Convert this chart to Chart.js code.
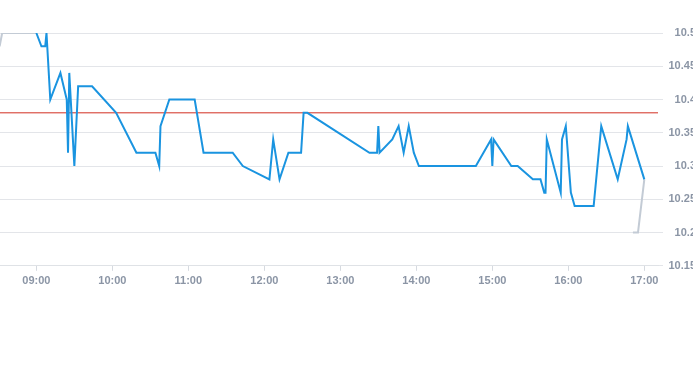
<!DOCTYPE html>
<html>
<head>
<meta charset="utf-8">
<script src="https://cdn.jsdelivr.net/npm/chart.js@4/dist/chart.umd.min.js"></script>
<style>
  html, body { margin: 0; padding: 0; background: #fff; overflow: hidden; }
  #wrap { position: relative; width: 696px; height: 365px; }
</style>
</head>
<body>
<div id="wrap"><canvas id="price-chart"></canvas></div>
<script>
// intraday trade prices (blue)
const tradeTimes = [
  "09:00", "09:04", "09:07", "09:08", "09:11", "09:19", "09:24", "09:25", "09:26", "09:30",
  "09:33", "09:44", "10:03", "10:19", "10:34", "10:37", "10:38", "10:45", "11:05", "11:12",
  "11:35", "11:43", "12:04", "12:07", "12:12", "12:19", "12:29", "12:31", "12:34", "13:23",
  "13:29", "13:30", "13:31", "13:41", "13:46", "13:50", "13:54", "13:58", "14:02", "14:47",
  "14:59", "15:00", "15:01", "15:15", "15:20", "15:32", "15:38", "15:41", "15:42", "15:43",
  "15:54", "15:55", "15:58", "16:02", "16:05", "16:20", "16:26", "16:39", "16:46", "16:47",
  "17:00"
];
const tradePrices = [
  10.50, 10.48, 10.48, 10.50, 10.40, 10.44, 10.40, 10.32, 10.44, 10.30,
  10.42, 10.42, 10.38, 10.32, 10.32, 10.30, 10.36, 10.40, 10.40, 10.32,
  10.32, 10.30, 10.28, 10.34, 10.28, 10.32, 10.32, 10.38, 10.38, 10.32,
  10.32, 10.36, 10.32, 10.34, 10.36, 10.32, 10.36, 10.32, 10.30, 10.30,
  10.34, 10.30, 10.34, 10.30, 10.30, 10.28, 10.28, 10.26, 10.26, 10.34,
  10.26, 10.34, 10.36, 10.26, 10.24, 10.24, 10.36, 10.28, 10.34, 10.36,
  10.28
];

// auction periods (grey)
const openAuctionTimes = ["08:31", "08:33", "09:00"];
const openAuctionPrices = [10.48, 10.50, 10.50];
const closeAuctionTimes = ["16:51", "16:55", "17:00"];
const closeAuctionPrices = [10.20, 10.20, 10.28];

// previous close (red)
const previousClose = 10.38;

const xTickLabels = ["09:00", "10:00", "11:00", "12:00", "13:00", "14:00", "15:00", "16:00", "17:00"];
const yMin = 10.15;
const yMax = 10.5;
const xMin = 511.3;
const xMax = 1030.8;

const toMinutes = (t) => {
  const [h, m] = t.split(":").map(Number);
  return h * 60 + m;
};
const toLabel = (mins) => {
  const h = Math.floor(mins / 60);
  const m = Math.round(mins % 60);
  return String(h).padStart(2, "0") + ":" + String(m).padStart(2, "0");
};
const toPoints = (times, prices) =>
  times.map((t, i) => ({ x: toMinutes(t), y: prices[i] }));

const tickFont = { family: "'Liberation Sans', Arial, sans-serif", size: 11, weight: "bold" };
const tickColor = "#8b95a5";

const ctx = document.getElementById("price-chart");
new Chart(ctx, {
  type: "line",
  data: {
    datasets: [
      {
        data: [{ x: xMin, y: previousClose }, { x: xMax, y: previousClose }],
        borderColor: "#d22f22",
        borderWidth: 1,
        pointRadius: 0,
        order: 3,
      },
      {
        data: toPoints(openAuctionTimes, openAuctionPrices),
        borderColor: "#c3cbd5",
        borderWidth: 2,
        pointRadius: 0,
        order: 2,
      },
      {
        data: toPoints(closeAuctionTimes, closeAuctionPrices),
        borderColor: "#c3cbd5",
        borderWidth: 2,
        pointRadius: 0,
        order: 2,
      },
      {
        data: toPoints(tradeTimes, tradePrices),
        borderColor: "#1a94e0",
        borderWidth: 2,
        pointRadius: 0,
        order: 1,
      },
    ],
  },
  options: {
    responsive: true,
    maintainAspectRatio: false,
    animation: false,
    layout: { padding: { top: 33, bottom: 73, left: 0, right: 0 } },
    plugins: {
      legend: { display: false },
      tooltip: { enabled: false },
    },
    elements: { line: { tension: 0 } },
    scales: {
      x: {
        type: "linear",
        min: xMin,
        max: xMax,
        afterBuildTicks: (axis) => {
          axis.ticks = xTickLabels.map((t) => ({ value: toMinutes(t) }));
        },
        ticks: {
          callback: (value) => toLabel(value),
          color: tickColor,
          font: tickFont,
          padding: 4,
          maxRotation: 0,
          autoSkip: false,
        },
        grid: {
          drawOnChartArea: false,
          drawTicks: true,
          tickLength: 5,
          color: "#d6dae0",
        },
        border: { display: true, color: "#dfe2e6" },
      },
      y: {
        position: "right",
        min: yMin,
        max: yMax,
        afterFit: (axis) => {
          axis.width = 38;
        },
        ticks: {
          stepSize: 0.05,
          callback: (value) => String(Number(value.toFixed(2))),
          color: tickColor,
          font: tickFont,
          padding: 4,
          crossAlign: "far",
        },
        grid: {
          color: "#e3e5e9",
          tickLength: 5,
        },
        border: { display: false },
      },
    },
  },
});
</script>
</body>
</html>
